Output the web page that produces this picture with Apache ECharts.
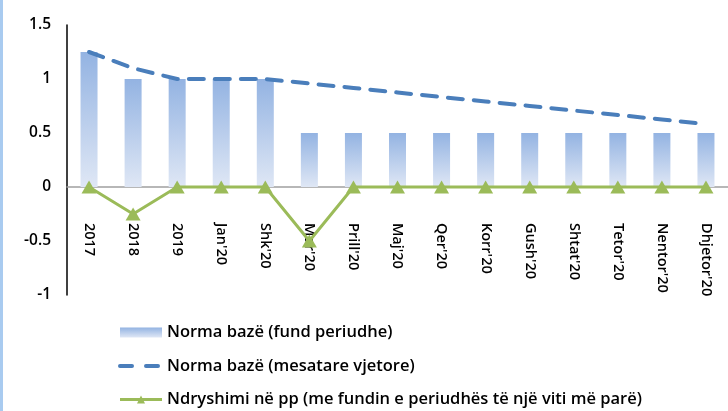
<!DOCTYPE html>
<html><head><meta charset="utf-8">
<script src="https://cdn.jsdelivr.net/npm/echarts@6/dist/echarts.min.js"></script>
<style>html,body{margin:0;padding:0;background:#fff}#c{width:728px;height:411px;border-left:3px solid #a9cbf0;box-sizing:border-box}</style>
</head><body><div id="c"></div>
<script>
var categories = ["2017","2018","2019","Jan'20","Shk'20","Mar'20","Prill'20","Maj'20","Qer'20","Korr'20","Gush'20","Shtat'20","Tetor'20","Nentor'20","Dhjetor'20"];
var normaFund = [1.25,1,1,1,1,0.5,0.5,0.5,0.5,0.5,0.5,0.5,0.5,0.5,0.5];
var normaMesatare = [1.25,1.1,1,1,1,0.958,0.917,0.875,0.833,0.792,0.75,0.708,0.667,0.625,0.583];
var ndryshimi = [0,-0.25,0,0,0,-0.5,0,0,0,0,0,0,0,0,0];
var yTicks = [-1,-0.5,0,0.5,1,1.5];
var names = ["Norma bazë (fund periudhe)","Norma bazë (mesatare vjetore)","Ndryshimi në pp (me fundin e periudhës të një viti më parë)"];
var font = "'Open Sans', 'Liberation Sans', sans-serif";
var chart = echarts.init(document.getElementById('c'), null, {renderer:'canvas'});
chart.setOption({
  animation:false,
  textStyle:{fontFamily:font},
  grid:{left:64,right:0,top:25,bottom:116},
  legend:{orient:'vertical',left:115,top:323,height:95,padding:0,itemGap:14.5,itemWidth:42,itemHeight:10,
    textStyle:{fontSize:16.5,lineHeight:19,fontWeight:600,color:'#000',fontFamily:font},
    data:[{name:names[0],icon:'rect'},
          {name:names[1],itemStyle:{opacity:0},lineStyle:{type:[12,14],width:4,color:'#4a7ebb',cap:'round'}},
          {name:names[2],lineStyle:{width:3,color:'#9bbb59'}}]},
  xAxis:{type:'category',data:categories,
    axisLine:{onZero:true,lineStyle:{color:'#a0a0a0',width:1.5}},
    axisTick:{show:false},
    axisLabel:{rotate:-90,margin:-72,fontSize:14.5,fontWeight:600,color:'#000',interval:0,fontFamily:font}},
  yAxis:{type:'value',min:-1,max:1.5,interval:0.5,
    splitLine:{show:false},
    axisLine:{show:true,lineStyle:{color:'#000',width:1.5}},
    axisTick:{show:false},
    axisLabel:{fontSize:15.5,fontWeight:600,color:'#000',margin:16,fontFamily:font}},
  series:[
    {name:names[0],type:'bar',data:normaFund,barWidth:17,
      itemStyle:{color:new echarts.graphic.LinearGradient(0,0,0,1,[{offset:0,color:'#93b3e2'},{offset:1,color:'#dfe7f5'}])}},
    {name:names[1],type:'line',data:normaMesatare,symbol:'none',
      lineStyle:{color:'#4a7ebb',width:4,type:[15,11],cap:'round'},itemStyle:{color:'#4a7ebb'}},
    {name:names[2],type:'line',data:ndryshimi,symbol:'triangle',symbolSize:[15,13],
      lineStyle:{color:'#9bbb59',width:3},itemStyle:{color:'#9bbb59'}}
  ]
});
</script></body></html>
